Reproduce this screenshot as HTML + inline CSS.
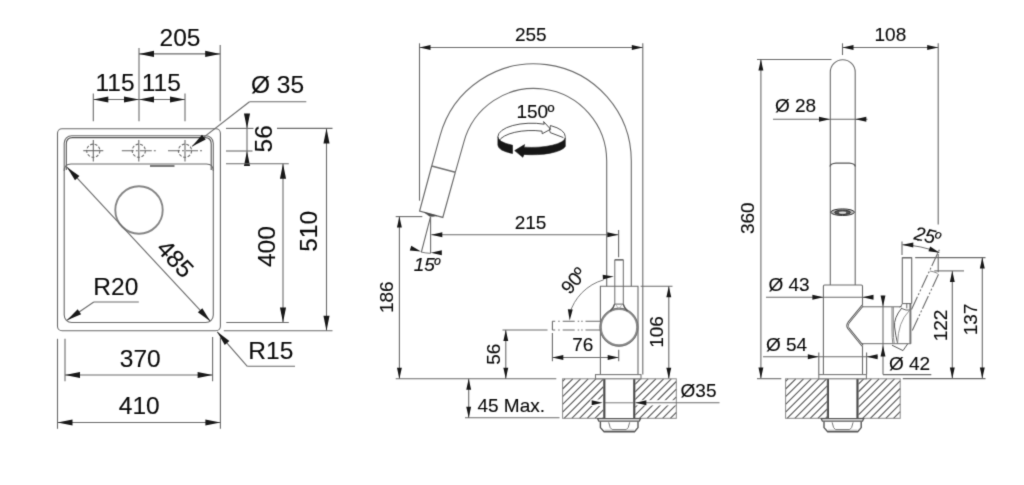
<!DOCTYPE html>
<html lang="en">
<head>
<meta charset="utf-8">
<title>Technical drawing</title>
<style>
html,body{margin:0;padding:0;background:#fff;}
body{width:1024px;height:485px;overflow:hidden;}
svg{display:block;}
svg text{font-family:"Liberation Sans",Arial,Helvetica,sans-serif;fill:#0a0a0a;stroke:#0a0a0a;stroke-width:0.12px;}
</style>
</head>
<body>
<svg width="1024" height="485" viewBox="0 0 1024 485" fill="none" stroke="#6a6a6a" stroke-width="1.1">
<defs><filter id="soft" filterUnits="userSpaceOnUse" x="0" y="0" width="1024" height="485" color-interpolation-filters="sRGB"><feConvolveMatrix order="3" kernelMatrix="0.0169 0.0962 0.0169 0.0962 0.5476 0.0962 0.0169 0.0962 0.0169" divisor="1" bias="0" edgeMode="duplicate" preserveAlpha="true"/></filter></defs>
<g filter="url(#soft)">
<rect x="-2" y="-2" width="1028" height="489" fill="#fff" stroke="none"/>
<rect x="57.50" y="128.70" width="162.90" height="202.10" rx="4.5" ry="4.5"/>
<rect x="64.20" y="135.70" width="149.10" height="186.80" rx="7.5" ry="7.5"/>
<path d="M66.3,170 V144 Q66.3,137.6 72.5,137.6 H205 Q211.2,137.6 211.2,144 V170" stroke="#555"/>
<path d="M64.2,171 Q64.2,164 71,164 H206.5 Q213.3,164 213.3,171"/>
<line x1="150.00" y1="166.00" x2="174.50" y2="166.00" stroke-width="1.4" stroke="#444"/>
<circle cx="93.3" cy="150.7" r="6.6" stroke-dasharray="3 1.6" />
<line x1="83.30" y1="150.70" x2="103.30" y2="150.70"/>
<line x1="93.30" y1="140.00" x2="93.30" y2="161.50"/>
<circle cx="138.8" cy="150.7" r="6.6" stroke-dasharray="3 1.6" />
<line x1="121.80" y1="150.70" x2="155.80" y2="150.70" stroke-dasharray="12 2 2 2"/>
<line x1="138.80" y1="140.00" x2="138.80" y2="161.50"/>
<circle cx="185" cy="150.7" r="6.6" stroke-dasharray="3 1.6" />
<line x1="168.00" y1="150.70" x2="202.00" y2="150.70" stroke-dasharray="12 2 2 2"/>
<line x1="185.00" y1="140.00" x2="185.00" y2="161.50"/>
<circle cx="139" cy="210" r="23.7" stroke-width="1.9" stroke="#858585"/>
<line x1="67.00" y1="167.20" x2="210.30" y2="321.20"/>
<polygon points="67.00,167.20 79.45,176.10 74.99,180.26" fill="#181818" stroke="none"/>
<polygon points="210.30,321.20 197.85,312.30 202.31,308.14" fill="#181818" stroke="none"/>
<text x="175.30" y="267.27" font-size="24.5" text-anchor="middle" transform="rotate(47.06121877185148 175.30 258.80)">485</text>
<line x1="139.00" y1="48.00" x2="139.00" y2="121.30"/>
<line x1="220.20" y1="45.00" x2="220.20" y2="121.30"/>
<line x1="139.00" y1="53.90" x2="220.20" y2="53.90"/>
<polygon points="139.00,53.90 154.00,50.85 154.00,56.95" fill="#181818" stroke="none"/>
<polygon points="220.20,53.90 205.20,56.95 205.20,50.85" fill="#181818" stroke="none"/>
<text x="180.00" y="45.77" font-size="24.5" text-anchor="middle">205</text>
<line x1="93.30" y1="93.50" x2="93.30" y2="121.30"/>
<line x1="185.00" y1="93.50" x2="185.00" y2="121.30"/>
<line x1="93.30" y1="99.50" x2="139.00" y2="99.50"/>
<polygon points="93.30,99.50 108.30,96.45 108.30,102.55" fill="#181818" stroke="none"/>
<polygon points="139.00,99.50 124.00,102.55 124.00,96.45" fill="#181818" stroke="none"/>
<line x1="139.00" y1="99.50" x2="185.00" y2="99.50"/>
<polygon points="139.00,99.50 154.00,96.45 154.00,102.55" fill="#181818" stroke="none"/>
<polygon points="185.00,99.50 170.00,102.55 170.00,96.45" fill="#181818" stroke="none"/>
<text x="115.00" y="90.77" font-size="24.5" text-anchor="middle">115</text>
<text x="161.30" y="90.77" font-size="24.5" text-anchor="middle">115</text>
<text x="277.50" y="93.07" font-size="24.5" text-anchor="middle">Ø 35</text>
<line x1="249.50" y1="101.80" x2="306.30" y2="101.80"/>
<line x1="249.50" y1="101.80" x2="192.00" y2="146.40"/>
<polygon points="192.00,146.40 201.98,134.80 205.72,139.62" fill="#181818" stroke="none"/>
<line x1="247.00" y1="113.80" x2="247.00" y2="165.00"/>
<polygon points="247.00,128.40 243.95,113.40 250.05,113.40" fill="#181818" stroke="none"/>
<polygon points="247.00,151.00 250.05,166.00 243.95,166.00" fill="#181818" stroke="none"/>
<line x1="226.00" y1="128.40" x2="253.50" y2="128.40"/>
<line x1="277.00" y1="128.40" x2="332.50" y2="128.40"/>
<line x1="226.00" y1="151.00" x2="252.50" y2="151.00"/>
<line x1="226.00" y1="163.80" x2="288.80" y2="163.80"/>
<text x="263.80" y="147.27" font-size="24.5" text-anchor="middle" transform="rotate(-90 263.80 138.80)">56</text>
<line x1="283.00" y1="163.80" x2="283.00" y2="322.50"/>
<polygon points="283.00,163.80 286.05,178.80 279.95,178.80" fill="#181818" stroke="none"/>
<polygon points="283.00,322.50 279.95,307.50 286.05,307.50" fill="#181818" stroke="none"/>
<line x1="226.30" y1="322.50" x2="288.80" y2="322.50"/>
<text x="266.30" y="255.07" font-size="24.5" text-anchor="middle" transform="rotate(-90 266.30 246.60)">400</text>
<line x1="326.50" y1="128.40" x2="326.50" y2="330.80"/>
<polygon points="326.50,128.40 329.55,143.40 323.45,143.40" fill="#181818" stroke="none"/>
<polygon points="326.50,330.80 323.45,315.80 329.55,315.80" fill="#181818" stroke="none"/>
<line x1="223.80" y1="330.80" x2="332.50" y2="330.80"/>
<text x="308.80" y="239.77" font-size="24.5" text-anchor="middle" transform="rotate(-90 308.80 231.30)">510</text>
<text x="115.80" y="294.57" font-size="24.5" text-anchor="middle">R20</text>
<line x1="93.80" y1="302.00" x2="138.80" y2="302.00"/>
<line x1="93.80" y1="302.00" x2="67.00" y2="320.30"/>
<polygon points="67.00,320.30 77.67,309.32 81.11,314.36" fill="#181818" stroke="none"/>
<text x="270.80" y="358.87" font-size="24.5" text-anchor="middle">R15</text>
<line x1="247.30" y1="366.30" x2="295.00" y2="366.30"/>
<line x1="247.30" y1="366.30" x2="217.20" y2="331.80"/>
<polygon points="217.20,331.80 229.36,341.10 224.76,345.11" fill="#181818" stroke="none"/>
<line x1="65.00" y1="338.80" x2="65.00" y2="381.30"/>
<line x1="212.60" y1="337.00" x2="212.60" y2="381.30"/>
<line x1="65.00" y1="375.00" x2="212.60" y2="375.00"/>
<polygon points="65.00,375.00 80.00,371.95 80.00,378.05" fill="#181818" stroke="none"/>
<polygon points="212.60,375.00 197.60,378.05 197.60,371.95" fill="#181818" stroke="none"/>
<text x="140.30" y="367.27" font-size="24.5" text-anchor="middle">370</text>
<line x1="57.50" y1="338.80" x2="57.50" y2="428.80"/>
<line x1="220.40" y1="337.00" x2="220.40" y2="428.80"/>
<line x1="57.50" y1="422.50" x2="220.40" y2="422.50"/>
<polygon points="57.50,422.50 72.50,419.45 72.50,425.55" fill="#181818" stroke="none"/>
<polygon points="220.40,422.50 205.40,425.55 205.40,419.45" fill="#181818" stroke="none"/>
<text x="139.20" y="413.87" font-size="24.5" text-anchor="middle">410</text>
<line x1="419.50" y1="43.30" x2="419.50" y2="200.70"/>
<line x1="642.80" y1="43.30" x2="642.80" y2="374.50"/>
<line x1="419.50" y1="47.50" x2="642.80" y2="47.50"/>
<polygon points="419.50,47.50 430.50,45.05 430.50,49.95" fill="#181818" stroke="none"/>
<polygon points="642.80,47.50 631.80,49.95 631.80,45.05" fill="#181818" stroke="none"/>
<text x="530.80" y="40.90" font-size="19" text-anchor="middle">255</text>
<path d="M631.30,286.3 V161.1 A97.3,97.3 0 0 0 440.02,135.92 L431.7,166.0"/>
<path d="M606.70,286.3 V161.1 A72.7,72.7 0 0 0 463.78,142.28 L455.3,172.3"/>
<path d="M431.7,166.0 L419.6,211.1 L442.8,217.4 L455.3,172.3" stroke-width="1.2" stroke="#6a6a6a"/>
<line x1="431.70" y1="166.00" x2="455.30" y2="172.30" stroke-width="1.6" stroke="#707070"/>
<path d="M424.2,212.3 L437,215.8 L432.6,216.6 L429.4,216.2 Z" fill="#4a4a4a" stroke="#4a4a4a" stroke-width="0.4"/>
<path d="M497.90,136.80 A33.7,13.6 0 0 1 544.22,124.19 L543.62,121.59 L550.6,129.2 L542.21,133.77 L542.01,131.17 A33.7,13.6 0 0 0 498.64,141.27" stroke-width="0.9" stroke="#3a3a3a"/>
<path d="M550.44,125.53 A33.7,13.6 0 0 1 565.30,136.80 M550.44,125.53 L549.64,130.13 L550.24,132.6 L563.4,137.6" stroke-width="0.9" stroke="#3a3a3a"/>
<path d="M497.90,136.80 A33.7,10.2 0 0 0 512.51,145.21 L512.51,153.51 A33.7,10.2 0 0 1 497.90,145.10 Z" fill="#161616" stroke="#161616" stroke-width="0.6"/>
<path d="M514.7,150.6 L524.6,144.6 L524.02,147.14 A33.7,10.2 0 0 0 565.30,137.40 L565.30,146.50 A33.7,10.2 0 0 1 524.02,154.44 L522.8,157.3 Z" fill="#161616" stroke="#161616" stroke-width="0.6"/>
<text x="535.40" y="118.40" font-size="19" text-anchor="middle">150<tspan dx="-0.8">º</tspan></text>
<line x1="395.70" y1="216.60" x2="422.30" y2="216.60"/>
<line x1="399.40" y1="216.60" x2="399.40" y2="378.80"/>
<polygon points="399.40,216.60 401.85,227.60 396.95,227.60" fill="#181818" stroke="none"/>
<polygon points="399.40,378.80 396.95,367.80 401.85,367.80" fill="#181818" stroke="none"/>
<text x="387.00" y="303.70" font-size="19" text-anchor="middle" transform="rotate(-90 387.00 297.20)">186</text>
<line x1="395.70" y1="378.80" x2="556.30" y2="378.80"/>
<line x1="430.60" y1="216.60" x2="430.60" y2="253.30"/>
<line x1="430.50" y1="216.80" x2="421.40" y2="252.00"/>
<path d="M421,252 Q425.8,253.2 430.6,253.3" stroke-width="0.9"/>
<polygon points="421.00,251.60 409.78,250.53 411.30,245.87" fill="#181818" stroke="none"/>
<polygon points="430.80,252.80 441.80,250.35 441.80,255.25" fill="#181818" stroke="none"/>
<text x="426.80" y="271.20" font-size="19" text-anchor="middle" font-style="italic">15<tspan dx="-1.4" font-size="17.5">º</tspan></text>
<line x1="431.30" y1="234.80" x2="618.30" y2="234.80"/>
<polygon points="431.30,234.80 442.30,232.35 442.30,237.25" fill="#181818" stroke="none"/>
<polygon points="618.30,234.80 607.30,237.25 607.30,232.35" fill="#181818" stroke="none"/>
<line x1="618.60" y1="230.00" x2="618.60" y2="257.30"/>
<text x="530.60" y="229.40" font-size="19" text-anchor="middle">215</text>
<path d="M614.8,304 V259.8 H623.3 V304" stroke-width="1"/>
<line x1="614.80" y1="259.80" x2="623.30" y2="259.80" stroke-width="1.4"/>
<path d="M600.4,374.5 V286.3 H638 V374.5"/>
<circle cx="619" cy="327.2" r="18.2" stroke="none" fill="#fff"/>
<circle cx="619" cy="327.2" r="18.3" stroke-width="2.3" stroke="#8a8a8a"/>
<circle cx="619" cy="327.2" r="19.1" stroke-width="0.7" stroke="#666"/>
<path d="M614.6,304.1 H623.2" stroke-width="1.1" stroke="#707070"/>
<path d="M614.6,304.1 Q613.8,307.6 610.2,311 M623.2,304.1 Q624,307.6 627.6,311" stroke-width="1.5" stroke="#555"/>
<path d="M616.2,305 L618.8,309.4 L621.6,305" stroke-width="0.7" stroke="#999"/>
<line x1="600.20" y1="321.30" x2="552.30" y2="321.30" stroke-dasharray="14.7 2.8 1.5 2 1.5 3 12 3 1.5 3 2 0"/>
<line x1="600.20" y1="330.00" x2="552.30" y2="330.00" stroke-dasharray="14.7 2.8 1.5 2 1.5 3 12 3 1.5 3 2 0"/>
<line x1="552.40" y1="321.30" x2="552.40" y2="330.00"/>
<line x1="552.40" y1="333.00" x2="552.40" y2="361.30"/>
<path d="M603.5,279.88 A49.6,49.6 0 0 0 569.6,314" stroke-width="0.9"/>
<polygon points="613.80,276.50 602.94,279.52 602.69,274.63" fill="#181818" stroke="none"/>
<polygon points="569.70,320.40 567.83,309.29 572.72,309.54" fill="#181818" stroke="none"/>
<text x="573.60" y="287.10" font-size="19" text-anchor="middle" transform="rotate(-50 573.60 280.60)">90<tspan dx="-0.8">º</tspan></text>
<line x1="502.50" y1="330.00" x2="547.50" y2="330.00"/>
<line x1="505.80" y1="330.00" x2="505.80" y2="378.80"/>
<polygon points="505.80,330.00 508.25,341.00 503.35,341.00" fill="#181818" stroke="none"/>
<polygon points="505.80,378.80 503.35,367.80 508.25,367.80" fill="#181818" stroke="none"/>
<text x="493.20" y="360.70" font-size="19" text-anchor="middle" transform="rotate(-90 493.20 354.20)">56</text>
<line x1="552.30" y1="357.50" x2="618.70" y2="357.50"/>
<polygon points="552.30,357.50 563.30,355.05 563.30,359.95" fill="#181818" stroke="none"/>
<polygon points="618.70,357.50 607.70,359.95 607.70,355.05" fill="#181818" stroke="none"/>
<line x1="618.70" y1="349.70" x2="618.70" y2="361.30"/>
<text x="582.80" y="351.20" font-size="19" text-anchor="middle">76</text>
<line x1="640.60" y1="286.30" x2="672.50" y2="286.30"/>
<line x1="668.80" y1="286.30" x2="668.80" y2="378.80"/>
<polygon points="668.80,286.30 671.25,297.30 666.35,297.30" fill="#181818" stroke="none"/>
<polygon points="668.80,378.80 666.35,367.80 671.25,367.80" fill="#181818" stroke="none"/>
<text x="656.80" y="338.50" font-size="19" text-anchor="middle" transform="rotate(-90 656.80 332.00)">106</text>
<line x1="465.00" y1="417.80" x2="559.50" y2="417.80"/>
<line x1="468.70" y1="378.80" x2="468.70" y2="417.80"/>
<polygon points="468.70,378.80 471.15,389.80 466.25,389.80" fill="#181818" stroke="none"/>
<polygon points="468.70,417.80 466.25,406.80 471.15,406.80" fill="#181818" stroke="none"/>
<text x="511.20" y="412.40" font-size="19" text-anchor="middle">45 Max.</text>
<path d="M562.60,381.30L565.10,378.80M562.60,389.00L572.80,378.80M562.60,396.70L580.50,378.80M562.60,404.40L588.20,378.80M562.60,412.10L595.90,378.80M564.10,418.30L603.60,378.80M571.80,418.30L603.60,386.50M579.50,418.30L603.60,394.20M587.20,418.30L603.60,401.90M594.90,418.30L603.60,409.60M602.60,418.30L603.60,417.30" stroke-width="1.1" stroke="#555"/>
<rect x="590.5" y="399.5" width="12.50" height="6.50" fill="#fff" stroke="none"/>
<rect x="562.6" y="378.8" width="41.00" height="39.50" stroke-width="1" stroke="#888"/>
<path d="M635.00,384.30L640.50,378.80M635.00,392.00L648.20,378.80M635.00,399.70L655.90,378.80M635.00,407.40L663.60,378.80M635.00,415.10L671.30,378.80M639.50,418.30L676.30,381.50M647.20,418.30L676.30,389.20M654.90,418.30L676.30,396.90M662.60,418.30L676.30,404.60M670.30,418.30L676.30,412.30" stroke-width="1.1" stroke="#555"/>
<rect x="635.6" y="400.2" width="40.40" height="5.20" fill="#fff" stroke="none"/>
<rect x="635" y="378.8" width="41.30" height="39.50" stroke-width="1" stroke="#888"/>
<line x1="604.50" y1="378.80" x2="604.50" y2="418.30" stroke-width="1.8" stroke="#4a4a4a"/>
<line x1="634.10" y1="378.80" x2="634.10" y2="418.30" stroke-width="1.8" stroke="#4a4a4a"/>
<rect x="595.5" y="374.6" width="45.50" height="4.2" fill="#fff" stroke="#777"/>
<path d="M597.6,418.6 H640.5 L639.3,421.2 H598.8000000000001 Z" stroke-width="1.3" stroke="#555"/>
<path d="M600.4,421.4 V427.6 L604.1,431.8 H634.5 L638,427.6 V421.4" stroke-width="1.4" stroke="#555"/>
<path d="M604.4,430.2 H634.2" stroke-width="0.8" stroke="#999"/>
<path d="M608.7,422.3 L610.2,427.6 L612.2,429.6 H626.2 L628.2,427.6 L629.7,422.3" stroke-width="1" stroke="#777"/>
<line x1="605.00" y1="402.80" x2="633.50" y2="402.80" stroke-width="0.9"/>
<line x1="635.50" y1="402.80" x2="719.50" y2="402.80"/>
<polygon points="602.70,402.80 591.70,405.25 591.70,400.35" fill="#181818" stroke="none"/>
<polygon points="635.40,402.80 646.40,400.35 646.40,405.25" fill="#181818" stroke="none"/>
<text x="698.50" y="396.80" font-size="19" text-anchor="middle">Ø35</text>
<line x1="842.50" y1="43.30" x2="842.50" y2="55.00"/>
<line x1="938.20" y1="43.30" x2="938.20" y2="224.50"/>
<line x1="938.20" y1="254.00" x2="938.20" y2="272.30"/>
<line x1="842.50" y1="47.50" x2="938.20" y2="47.50"/>
<polygon points="842.50,47.50 853.50,45.05 853.50,49.95" fill="#181818" stroke="none"/>
<polygon points="938.20,47.50 927.20,49.95 927.20,45.05" fill="#181818" stroke="none"/>
<text x="890.40" y="40.90" font-size="19" text-anchor="middle">108</text>
<line x1="757.00" y1="59.50" x2="831.50" y2="59.50"/>
<line x1="760.90" y1="59.50" x2="760.90" y2="378.60"/>
<polygon points="760.90,59.50 763.35,70.50 758.45,70.50" fill="#181818" stroke="none"/>
<polygon points="760.90,378.60 758.45,367.60 763.35,367.60" fill="#181818" stroke="none"/>
<text x="748.00" y="224.70" font-size="19" text-anchor="middle" transform="rotate(-90 748.00 218.20)">360</text>
<line x1="757.00" y1="378.70" x2="781.30" y2="378.70"/>
<path d="M830.3,285 V72.2 A12.45,12.45 0 0 1 855.2,72.2 V285"/>
<path d="M830,166.5 Q830.5,163.6 836,163.2 H849.3 Q854.8,163.6 855.3,166.5" stroke-width="1.3" stroke="#555"/>
<ellipse cx="842.6" cy="212.2" rx="11.8" ry="3.3" fill="#bbb" stroke="#333" stroke-width="1"/>
<ellipse cx="842.6" cy="212.4" rx="8" ry="2.2" fill="#555" stroke="#222" stroke-width="0.8"/>
<ellipse cx="842.6" cy="212.7" rx="3.6" ry="1.1" fill="#ddd" stroke="none"/>
<line x1="773.00" y1="119.30" x2="867.50" y2="119.30"/>
<polygon points="830.00,119.30 819.00,121.75 819.00,116.85" fill="#181818" stroke="none"/>
<polygon points="855.30,119.30 866.30,116.85 866.30,121.75" fill="#181818" stroke="none"/>
<text x="795.60" y="112.40" font-size="19" text-anchor="middle">Ø 28</text>
<path d="M862.5,305.8 V286.2 Q862.5,285 861.3,285 H824.6 Q823.4,285 823.4,286.2 V374.5"/>
<line x1="862.50" y1="345.20" x2="862.50" y2="374.50"/>
<line x1="766.00" y1="297.20" x2="873.20" y2="297.20"/>
<polygon points="823.40,297.20 812.40,299.65 812.40,294.75" fill="#181818" stroke="none"/>
<polygon points="862.50,297.20 873.50,294.75 873.50,299.65" fill="#181818" stroke="none"/>
<text x="789.00" y="290.90" font-size="19" text-anchor="middle">Ø 43</text>
<line x1="763.00" y1="356.80" x2="878.00" y2="356.80"/>
<polygon points="818.80,356.80 807.80,359.25 807.80,354.35" fill="#181818" stroke="none"/>
<polygon points="866.60,356.80 877.60,354.35 877.60,359.25" fill="#181818" stroke="none"/>
<line x1="818.80" y1="352.60" x2="818.80" y2="374.50"/>
<line x1="866.60" y1="352.60" x2="866.60" y2="374.50"/>
<text x="786.50" y="350.90" font-size="19" text-anchor="middle">Ø 54</text>
<path d="M862,306.8 H901.8 M862,343.7 H911" stroke-width="1"/>
<path d="M862.6,305.6 L848.6,322.6 Q846.3,325.6 848.6,328.6 L862.6,345.8" stroke-width="2.3" stroke="#505050" stroke-linejoin="round"/>
<path d="M862.6,305.6 L848.6,322.6 Q846.3,325.6 848.6,328.6 L862.6,345.8" stroke-width="0.7" stroke="#fff" stroke-linejoin="round"/>
<path d="M892,307 V330 Q892,338 892.8,343.5" stroke-width="0.9" stroke="#777"/>
<path d="M893.3,307 V330 Q893.4,338 894.2,343.5" stroke-width="0.9" stroke="#777"/>
<path d="M902.3,303.5 V257.7 H911.7 V303.5"/>
<line x1="902.30" y1="257.70" x2="911.70" y2="257.70" stroke-width="1.3"/>
<line x1="910.40" y1="303.50" x2="910.40" y2="343.80" stroke-width="2" stroke="#777"/>
<path d="M902.3,303.6 H911.5 M906.8,303.6 V308.4 M902.3,303.6 Q901.5,306.4 899.6,307.2 M902,308.6 Q906,310.8 910,310" stroke-width="0.9" stroke="#555"/>
<path d="M901.8,308 Q893.5,318 894.6,327 Q895.6,336 897.6,343.6" stroke-width="1" stroke="#555"/>
<path d="M909,311 Q898,322 897.6,343.6" stroke-width="0.9" stroke="#888"/>
<path d="M892,345.2 L903,350.6 L907.6,344" stroke-width="1" stroke="#555"/>
<line x1="911.50" y1="309.50" x2="939.60" y2="249.23" stroke-dasharray="14 2 2 2 2 2"/>
<line x1="912.30" y1="330.50" x2="938.92" y2="273.40" stroke-dasharray="14 2 2 2 2 2"/>
<path d="M930,271 Q934,271.6 937.6,273.4" stroke-width="0.8"/>
<line x1="902.00" y1="241.40" x2="902.00" y2="255.00"/>
<path d="M902.3,244.8 Q921,245.3 939.2,252.6" stroke-width="1"/>
<polygon points="902.30,244.80 913.34,242.54 913.26,247.44" fill="#181818" stroke="none"/>
<polygon points="939.60,252.80 928.45,251.15 930.21,246.57" fill="#181818" stroke="none"/>
<text x="927.30" y="242.10" font-size="19" text-anchor="middle" transform="rotate(12 927.30 235.60)" font-style="italic">25<tspan dx="-1.4" font-size="17.5">º</tspan></text>
<line x1="915.20" y1="257.60" x2="985.50" y2="257.60"/>
<line x1="982.30" y1="257.60" x2="982.30" y2="378.60"/>
<polygon points="982.30,257.60 984.75,268.60 979.85,268.60" fill="#181818" stroke="none"/>
<polygon points="982.30,378.60 979.85,367.60 984.75,367.60" fill="#181818" stroke="none"/>
<text x="970.00" y="326.00" font-size="19" text-anchor="middle" transform="rotate(-90 970.00 319.50)">137</text>
<line x1="934.30" y1="270.90" x2="964.00" y2="270.90"/>
<line x1="952.30" y1="270.90" x2="952.30" y2="378.60"/>
<polygon points="952.30,270.90 954.75,281.90 949.85,281.90" fill="#181818" stroke="none"/>
<polygon points="952.30,378.60 949.85,367.60 954.75,367.60" fill="#181818" stroke="none"/>
<text x="940.00" y="332.00" font-size="19" text-anchor="middle" transform="rotate(-90 940.00 325.50)">122</text>
<line x1="902.80" y1="378.60" x2="985.50" y2="378.60"/>
<line x1="883.00" y1="295.70" x2="883.00" y2="374.60"/>
<line x1="883.00" y1="374.60" x2="931.30" y2="374.60"/>
<polygon points="883.00,306.50 880.55,295.50 885.45,295.50" fill="#181818" stroke="none"/>
<polygon points="883.00,345.40 885.45,356.40 880.55,356.40" fill="#181818" stroke="none"/>
<text x="909.50" y="369.60" font-size="19" text-anchor="middle">Ø 42</text>
<path d="M785.60,381.30L788.10,378.80M785.60,389.00L795.80,378.80M785.60,396.70L803.50,378.80M785.60,404.40L811.20,378.80M785.60,412.10L818.90,378.80M787.10,418.30L826.60,378.80M794.80,418.30L827.20,385.90M802.50,418.30L827.20,393.60M810.20,418.30L827.20,401.30M817.90,418.30L827.20,409.00M825.60,418.30L827.20,416.70" stroke-width="1.1" stroke="#555"/>
<rect x="785.6" y="378.8" width="41.60" height="39.50" stroke-width="1" stroke="#888"/>
<path d="M858.20,384.30L863.70,378.80M858.20,392.00L871.40,378.80M858.20,399.70L879.10,378.80M858.20,407.40L886.80,378.80M858.20,415.10L894.50,378.80M862.70,418.30L900.20,380.80M870.40,418.30L900.20,388.50M878.10,418.30L900.20,396.20M885.80,418.30L900.20,403.90M893.50,418.30L900.20,411.60" stroke-width="1.1" stroke="#555"/>
<rect x="858.2" y="378.8" width="42.00" height="39.50" stroke-width="1" stroke="#888"/>
<line x1="828.10" y1="378.80" x2="828.10" y2="418.30" stroke-width="1.8" stroke="#4a4a4a"/>
<line x1="857.30" y1="378.80" x2="857.30" y2="418.30" stroke-width="1.8" stroke="#4a4a4a"/>
<rect x="818.8" y="374.6" width="47.60" height="4.2" fill="#fff" stroke="#777"/>
<path d="M821.2,418.6 H863.7 L862.5,421.2 H822.4000000000001 Z" stroke-width="1.3" stroke="#555"/>
<path d="M824.0,421.4 V427.6 L827.7,431.8 H857.7 L861.2,427.6 V421.4" stroke-width="1.4" stroke="#555"/>
<path d="M828.0,430.2 H857.4000000000001" stroke-width="0.8" stroke="#999"/>
<path d="M832.1,422.3 L833.6,427.6 L835.6,429.6 H849.6 L851.6,427.6 L853.1,422.3" stroke-width="1" stroke="#777"/>
</g>
</svg>
</body>
</html>
